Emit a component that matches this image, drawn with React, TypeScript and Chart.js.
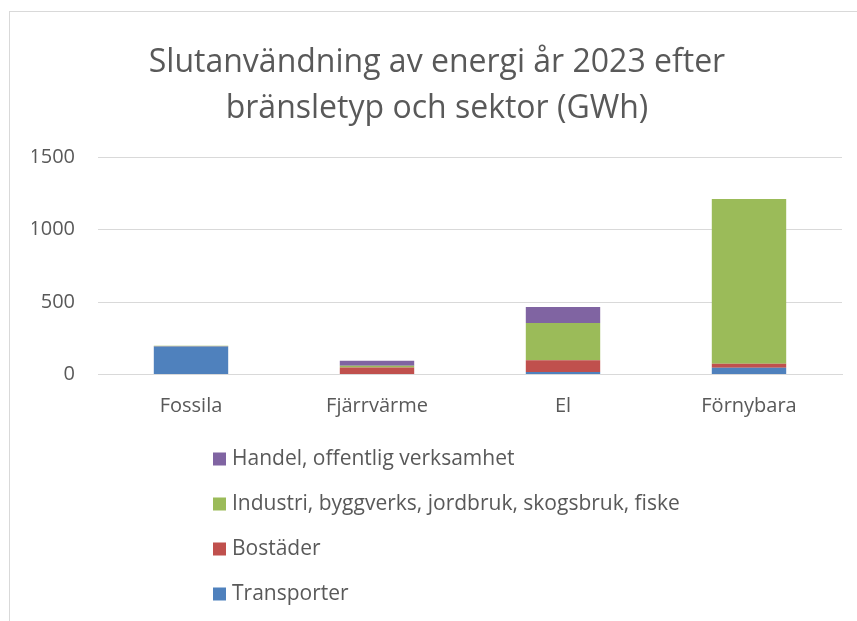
import React, { useEffect, useRef } from "react";
import { Chart, registerables } from "chart.js";

Chart.register(...registerables);

const categories = ["Fossila", "Fjärrvärme", "El", "Förnybara"];
const seriesNames = [
  "Transporter",
  "Bostäder",
  "Industri, byggverks, jordbruk, skogsbruk, fiske",
  "Handel, offentlig verksamhet",
];
const transporter = [193, 0, 18, 46];
const bostader = [1, 48, 81, 28];
const industri = [4, 12, 256, 1136];
const handel = [1, 35, 111, 0];
const yTicks = [0, 500, 1000, 1500];
const titleLines = ["Slutanvändning av energi år 2023 efter", "bränsletyp och sektor (GWh)"];

const colors = ["#4F81BD", "#C0504D", "#9BBB59", "#8064A2"];
const FONT = "'Open Sans', 'Noto Sans', sans-serif";
const TEXT = "#595959";

const legendPlugin = {
  id: "stackLegend",
  afterDraw(chart: any) {
    const ctx = chart.ctx;
    const ds = chart.data.datasets;
    const left = 213;
    const box = 13;
    const startY = 459;
    const step = 45;
    ctx.save();
    ctx.font = `21px ${FONT}`;
    ctx.textBaseline = "middle";
    ctx.textAlign = "left";
    for (let i = ds.length - 1, row = 0; i >= 0; i--, row++) {
      const y = startY + row * step;
      ctx.fillStyle = ds[i].backgroundColor;
      ctx.fillRect(left, y - box / 2, box, box);
      ctx.fillStyle = TEXT;
      ctx.fillText(ds[i].label, left + box + 6, y);
    }
    ctx.restore();
  },
};

export default function App() {
  const ref = useRef<HTMLCanvasElement | null>(null);
  useEffect(() => {
    if (!ref.current) return;
    const values = [transporter, bostader, industri, handel];
    const chart = new Chart(ref.current, {
      type: "bar",
      data: {
        labels: categories,
        datasets: values.map((v, i) => ({
          label: seriesNames[i],
          data: v,
          backgroundColor: colors[i],
          borderWidth: 0,
          categoryPercentage: 1,
          barPercentage: 0.4,
        })),
      },
      options: {
        animation: false,
        responsive: false,
        maintainAspectRatio: false,
        devicePixelRatio: 1,
        layout: { padding: { left: 32, right: 15, top: 0, bottom: 182.5 } },
        plugins: {
          legend: { display: false },
          tooltip: { enabled: false },
          title: {
            display: true,
            text: titleLines,
            color: TEXT,
            font: { family: FONT, size: 32, weight: "normal", lineHeight: 46 / 32 },
            padding: { top: 40, bottom: 25 },
          },
        },
        scales: {
          x: {
            stacked: true,
            grid: { display: false, drawTicks: false },
            border: { display: true, color: "#d9d9d9", width: 1 },
            ticks: { color: TEXT, font: { family: FONT, size: 20 }, padding: 20 },
          },
          y: {
            stacked: true,
            min: 0,
            max: 1500,
            afterBuildTicks: (axis: any) => {
              axis.ticks = yTicks.map((v) => ({ value: v }));
            },
            afterFit: (axis: any) => {
              axis.width = 66;
            },
            grid: { color: "#d9d9d9", lineWidth: 1, drawTicks: false },
            border: { display: false },
            ticks: {
              color: TEXT,
              font: { family: FONT, size: 20 },
              padding: 23,
              callback: (v: any) => String(v),
            },
          },
        },
      },
      plugins: [legendPlugin],
    });
    return () => chart.destroy();
  }, []);

  return (
    <div style={{ position: "fixed", left: 0, top: 0, width: 857, height: 621, background: "#fff", overflow: "hidden" }}>
      <div
        style={{
          position: "absolute",
          left: 9,
          top: 11,
          width: 900,
          height: 700,
          border: "1px solid #d9d9d9",
          boxSizing: "border-box",
        }}
      />
      <canvas ref={ref} width={857} height={621} style={{ position: "absolute", left: 0, top: 0, width: 857, height: 621 }} />
    </div>
  );
}
